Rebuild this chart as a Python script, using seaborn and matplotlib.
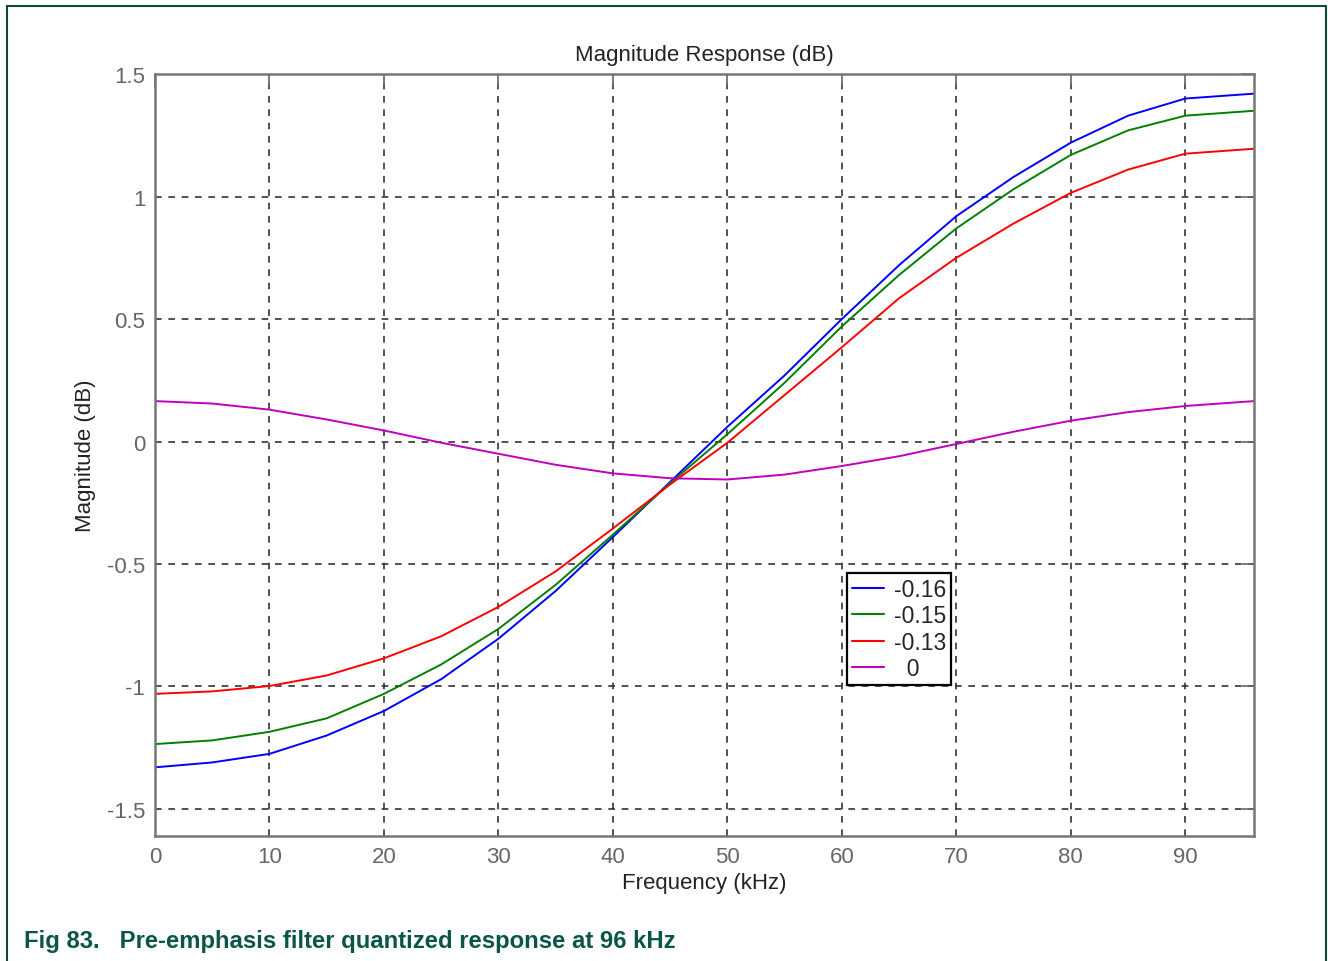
import pandas as pd
import seaborn as sns
import matplotlib.pyplot as plt
from matplotlib.lines import Line2D

freq = [0, 5, 10, 15, 20, 25, 30, 35, 40, 45, 50, 55, 60, 65, 70, 75, 80, 85, 90, 96]

# magnitude (dB) for each coefficient
mag_016 = [-1.33, -1.31, -1.275, -1.20, -1.10, -0.97, -0.805, -0.61, -0.39, -0.165,
           0.06, 0.27, 0.50, 0.72, 0.92, 1.08, 1.22, 1.33, 1.40, 1.42]
mag_015 = [-1.235, -1.22, -1.185, -1.13, -1.03, -0.91, -0.765, -0.585, -0.38, -0.17,
           0.03, 0.24, 0.47, 0.68, 0.87, 1.03, 1.17, 1.27, 1.33, 1.35]
mag_013 = [-1.03, -1.02, -0.998, -0.955, -0.885, -0.795, -0.675, -0.53, -0.355, -0.175,
           -0.005, 0.19, 0.385, 0.585, 0.75, 0.89, 1.015, 1.11, 1.175, 1.195]
mag_0 = [0.165, 0.155, 0.13, 0.09, 0.045, -0.005, -0.05, -0.095, -0.13, -0.15,
         -0.155, -0.135, -0.10, -0.06, -0.01, 0.04, 0.085, 0.12, 0.145, 0.165]

labels = ['-0.16', '-0.15', '-0.13', '  0']
colors = ['#0000ff', '#008000', '#ff0000', '#bf00bf']

x_ticks = [0, 10, 20, 30, 40, 50, 60, 70, 80, 90]
y_ticks = [-1.5, -1, -0.5, 0, 0.5, 1, 1.5]
y_ticklabels = ['-1.5', '-1', '-0.5', '0', '0.5', '1', '1.5']

rows = []
for lab, vals in zip(labels, [mag_016, mag_015, mag_013, mag_0]):
    for f, v in zip(freq, vals):
        rows.append({'Frequency': f, 'Magnitude': v, 'Coef': lab})
df = pd.DataFrame(rows)

sns.set_style('white')
plt.rcParams['font.family'] = ['Liberation Sans', 'DejaVu Sans']

fig = plt.figure(figsize=(13.28, 9.62), dpi=100)
ax = fig.add_axes([0.1167, 0.130, 0.8276, 0.792])

sns.lineplot(data=df, x='Frequency', y='Magnitude', hue='Coef',
             palette=dict(zip(labels, colors)), hue_order=labels,
             linewidth=1.4, legend=False, ax=ax)

ax.set_xlim(0, 96)
ax.set_ylim(-1.61, 1.5)
ax.set_xticks(x_ticks)
ax.set_xticklabels([str(t) for t in x_ticks])
ax.set_yticks(y_ticks)
ax.set_yticklabels(y_ticklabels)

ax.grid(True, linestyle=(0, (4, 4)), color='#333333', linewidth=1.2)
ax.tick_params(direction='in', length=9, width=1.2, top=True, right=True,
               labelsize=16, labelcolor='#666666', color='#666666', pad=7)
for s in ax.spines.values():
    s.set_color('#777777')
    s.set_linewidth(1.8)

ax.set_title('Magnitude Response (dB)', fontsize=16, color='#222222', pad=10)
ax.set_xlabel('Frequency (kHz)', fontsize=16, color='#222222', labelpad=4)
ax.set_ylabel('Magnitude (dB)', fontsize=16, color='#222222', labelpad=8)

handles = [Line2D([0], [0], color=c, linewidth=1.5) for c in colors]
leg = ax.legend(handles, labels, loc='upper left', bbox_to_anchor=(0.6297, 0.345),
                borderaxespad=0, fontsize=16.5, handlelength=1.4, handletextpad=0.45,
                labelspacing=0.15, borderpad=0.2, fancybox=False, framealpha=1)
leg.get_frame().set_edgecolor('black')
leg.get_frame().set_linewidth(1.6)

# page border and caption
border = '#0b4a3c'
fig.add_artist(Line2D([7 / 1328, 7 / 1328], [0, 1 - 7 / 962], color=border, linewidth=1.5))
fig.add_artist(Line2D([7 / 1328, 1326 / 1328], [1 - 7 / 962, 1 - 7 / 962], color=border, linewidth=1.5))
fig.add_artist(Line2D([1326 / 1328, 1326 / 1328], [0, 1 - 7 / 962], color=border, linewidth=1.5))
fig.text(24 / 1328, 1 - 942 / 962, 'Fig 83.   Pre-emphasis filter quantized response at 96 kHz',
         fontsize=17.2, fontweight='bold', color='#0a5646', va='center', ha='left')

fig.savefig('out.png', dpi=100)
